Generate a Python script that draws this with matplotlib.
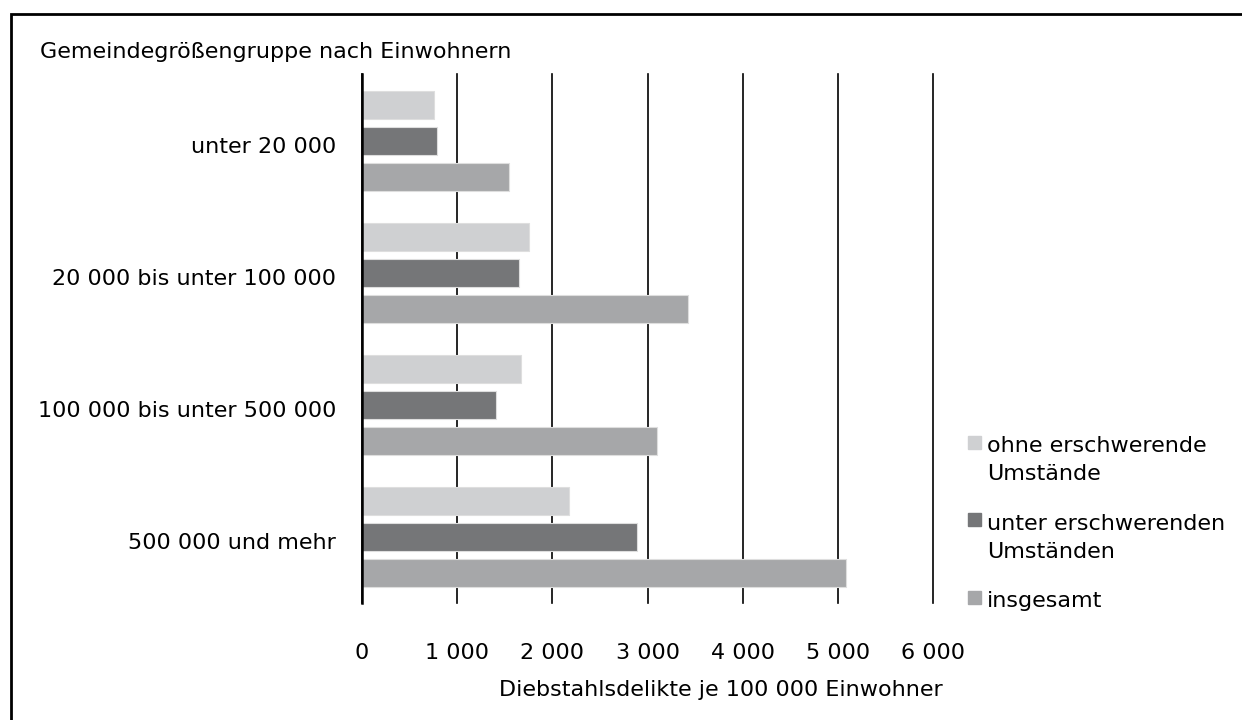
import numpy as np
import matplotlib
matplotlib.use("Agg")
import matplotlib.pyplot as plt
import matplotlib.transforms as mtransforms
from matplotlib.patches import Rectangle

plt.rcParams["font.family"] = ["DejaVu Sans"]
plt.rcParams["font.size"] = 16

categories = [
    "unter 20 000",
    "20 000 bis unter 100 000",
    "100 000 bis unter 500 000",
    "500 000 und mehr",
]
series_names = [
    "ohne erschwerende\nUmstände",
    "unter erschwerenden\nUmständen",
    "insgesamt",
]
ohne = [756, 1754, 1670, 2178]
unter = [788, 1652, 1408, 2892]
insgesamt = [1544, 3421, 3095, 5084]
colors = ["#cfd0d2", "#757678", "#a6a7a9"]
xticks = [0, 1000, 2000, 3000, 4000, 5000, 6000]
xtick_labels = ["0", "1 000", "2 000", "3 000", "4 000", "5 000", "6 000"]

W, H = 1242, 720
fig = plt.figure(figsize=(W / 100, H / 100), dpi=100)
ax = fig.add_axes([362 / W, 1 - 603 / H, 571 / W, 529 / H])

y = np.arange(len(categories))
offsets = [-0.273, 0.0, 0.273]
for vals, off, col in zip([ohne, unter, insgesamt], offsets, colors):
    ax.barh(y + off, vals, height=0.21, color=col,
            edgecolor="#dedede", linewidth=0.8, zorder=3)

ax.set_xlim(0, 6000)
ax.set_ylim(3.5, -0.51)
ax.set_xticks(xticks)
ax.set_xticklabels(xtick_labels)
ax.set_yticks(y)
ax.set_yticklabels(categories)
ax.tick_params(axis="x", length=0, pad=29)
ax.tick_params(axis="y", length=0, pad=18.5)
ax.xaxis.grid(True, color="black", linewidth=1.2)
for gl in ax.get_xgridlines():
    gl.set_clip_on(False)
ax.set_axisbelow(True)
for s in ["top", "right", "bottom"]:
    ax.spines[s].set_visible(False)
ax.spines["left"].set_linewidth(1.8)
ax.spines["left"].set_zorder(4)

# category labels sit a little below the group centre
shift = mtransforms.ScaledTranslation(0, -4 / 100, fig.dpi_scale_trans)
for lbl in ax.get_yticklabels():
    lbl.set_transform(lbl.get_transform() + shift)

fig.text(40 / W, 1 - 58 / H, "Gemeindegrößengruppe nach Einwohnern",
         ha="left", va="baseline")
fig.text(721 / W, 1 - 690 / H, "Diebstahlsdelikte je 100 000 Einwohner",
         ha="center", va="center")

# legend, squares aligned with the first text line
for i, (name, col) in enumerate(zip(series_names, colors)):
    cy = 442 + 77.5 * i
    fig.patches.append(Rectangle(((968) / W, 1 - (cy + 6.5) / H), 13 / W, 13 / H,
                                 transform=fig.transFigure, color=col))
    for j, line in enumerate(name.split("\n")):
        fig.text(987 / W, 1 - (cy + 10 + 28.5 * j) / H, line,
                 ha="left", va="baseline")

# frame around the figure
fig.patches.append(Rectangle((10.5 / W, -0.1), 1.2, 1 - 13.5 / H + 0.1,
                             transform=fig.transFigure, fill=False,
                             edgecolor="black", linewidth=2))

fig.savefig("out.png", dpi=100)
